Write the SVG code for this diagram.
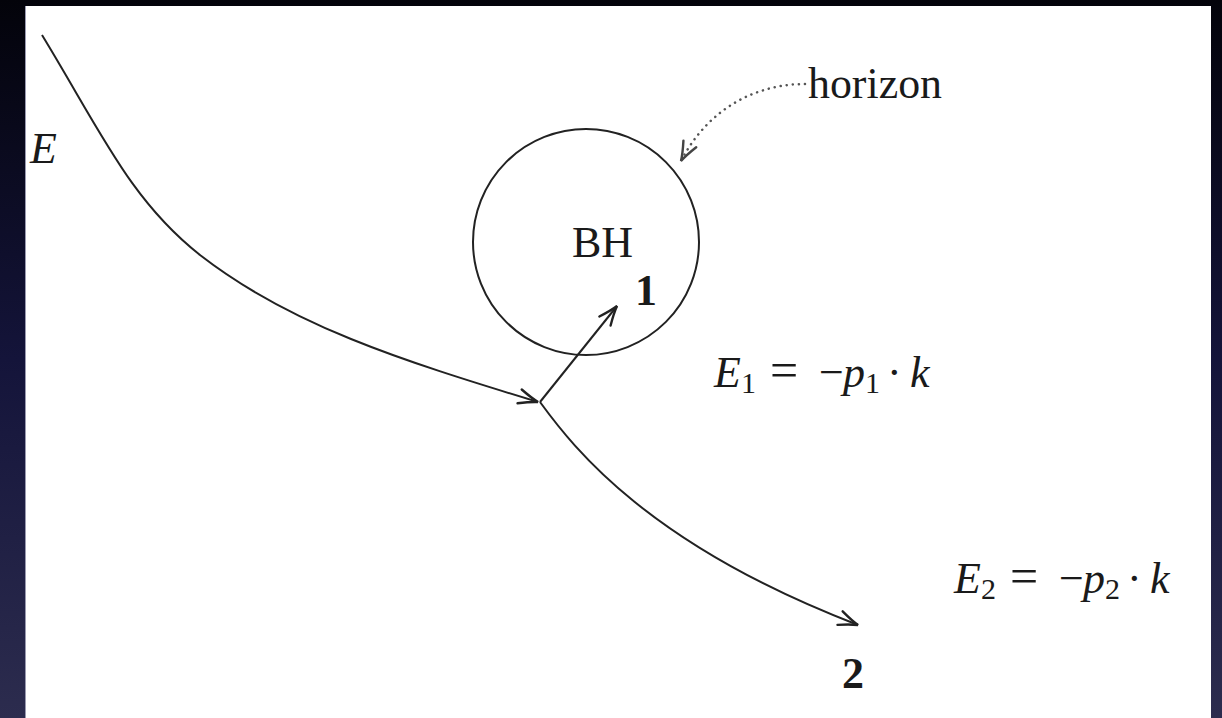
<svg xmlns="http://www.w3.org/2000/svg" width="1222" height="718" viewBox="0 0 1222 718">
<defs>
<linearGradient id="bg" x1="0" y1="0" x2="0" y2="1">
<stop offset="0" stop-color="#03030a"/>
<stop offset="0.5" stop-color="#14143a"/>
<stop offset="1" stop-color="#2c2c4e"/>
</linearGradient>
<marker id="arr" markerUnits="userSpaceOnUse" markerWidth="30" markerHeight="30" refX="0" refY="0" viewBox="-20 -10 25 20" orient="auto" overflow="visible">
<path d="M -16 -6 Q -6 -1.5 0 0 Q -6 1.5 -16 6" fill="none" stroke="#222" stroke-width="2" stroke-linecap="round"/>
</marker>
<marker id="arrg" markerUnits="userSpaceOnUse" markerWidth="30" markerHeight="30" refX="0" refY="0" viewBox="-20 -10 25 20" orient="auto" overflow="visible">
<path d="M -16 -6 Q -6 -1.5 0 0 Q -6 1.5 -16 6" fill="none" stroke="#444" stroke-width="2" stroke-linecap="round"/>
</marker>
</defs>
<style>
.t{font-family:"Liberation Serif","Times New Roman",serif;fill:#1a1a1a;font-size:44px}
.i{font-style:italic}
.b{font-weight:bold}
.ln{fill:none;stroke:#222;stroke-width:2}
</style>
<rect x="0" y="0" width="1222" height="718" fill="url(#bg)"/>
<rect x="25" y="6" width="1186" height="712" fill="#ffffff"/>
<line x1="25.5" y1="6" x2="25.5" y2="718" stroke="#9a9ab0" stroke-width="1"/>

<g id="connectors">
<path class="ln" d="M 42 35 C 100 130, 130 200, 200 255 C 290 325, 400 360, 538 402" marker-end="url(#arr)"/>
<path class="ln" d="M 540 402 L 617 306" marker-end="url(#arr)"/>
<path class="ln" d="M 540 402 C 575 450, 650 545, 858 625" marker-end="url(#arr)"/>
<path d="M 805 84 C 760 84, 710 105, 681 161" fill="none" stroke="#555" stroke-width="2.5" stroke-dasharray="0.1 6" stroke-linecap="round" marker-end="url(#arrg)"/>
</g>

<g id="bh">
<circle cx="586" cy="242" r="113" fill="none" stroke="#222" stroke-width="2"/>
<text class="t" x="572" y="257" font-size="42">BH</text>
</g>

<g id="label-E">
<text class="t i" x="30" y="163">E</text>
</g>

<g id="label-horizon">
<text class="t" x="808" y="98" textLength="134" lengthAdjust="spacingAndGlyphs">horizon</text>
</g>

<g id="label-1">
<text class="t b" x="635" y="305" font-size="36">1</text>
</g>

<g id="label-2">
<text class="t b" x="842" y="688" font-size="40">2</text>
</g>

<g id="eq1">
<text class="t" y="387"><tspan class="i" x="714">E</tspan><tspan x="741" y="393" font-size="30">1</tspan><tspan x="770" y="387" font-size="50">=</tspan><tspan x="819" y="387">−</tspan><tspan class="i" x="843">p</tspan><tspan x="865" y="393" font-size="30">1</tspan><tspan x="887" y="387">·</tspan><tspan class="i" x="910">k</tspan></text>
</g>

<g id="eq2">
<text class="t" y="593"><tspan class="i" x="954">E</tspan><tspan x="981" y="599" font-size="30">2</tspan><tspan x="1010" y="593" font-size="50">=</tspan><tspan x="1059" y="593">−</tspan><tspan class="i" x="1083">p</tspan><tspan x="1105" y="599" font-size="30">2</tspan><tspan x="1127" y="593">·</tspan><tspan class="i" x="1150">k</tspan></text>
</g>
</svg>
